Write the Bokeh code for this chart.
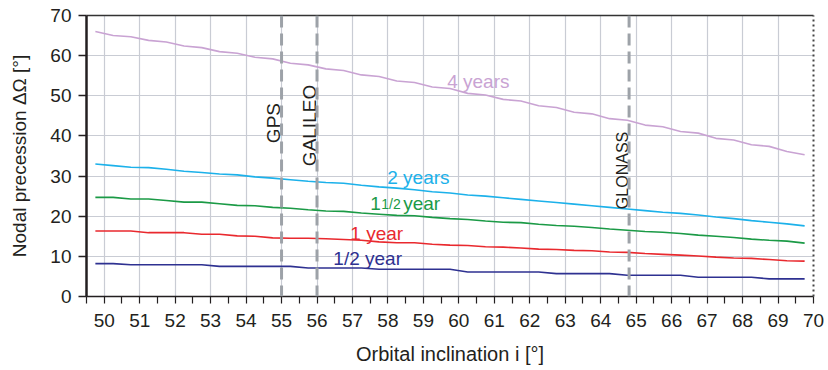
import math
from bokeh.plotting import figure
from bokeh.models import Range1d, FixedTicker, LinearAxis, Span
from bokeh.core.properties import value
from bokeh.embed import file_html
from bokeh.resources import INLINE

# ---------------- data ----------------
inclination = [49.75, 50.25, 50.75, 51.25, 51.75, 52.25, 52.75, 53.25, 53.75, 54.25,
               54.75, 55.25, 55.75, 56.25, 56.75, 57.25, 57.75, 58.25, 58.75, 59.25,
               59.75, 60.25, 60.75, 61.25, 61.75, 62.25, 62.75, 63.25, 63.75, 64.25,
               64.75, 65.25, 65.75, 66.25, 66.75, 67.25, 67.75, 68.25, 68.75, 69.25,
               69.75]

prec_4y = [66.0, 65.0, 64.7, 63.8, 63.4, 62.4, 62.0, 61.0, 60.6, 59.6,
           59.2, 58.1, 57.7, 56.7, 56.3, 55.2, 54.8, 53.7, 53.3, 52.2,
           51.8, 50.6, 50.2, 49.1, 48.7, 47.5, 47.1, 45.9, 45.5, 44.3,
           43.9, 42.7, 42.3, 41.1, 40.7, 39.4, 39.0, 37.8, 37.4, 36.1,
           35.3]
prec_2y = [33.0, 32.6, 32.2, 32.1, 31.7, 31.2, 30.9, 30.5, 30.3, 29.8,
           29.5, 29.1, 28.7, 28.4, 28.2, 27.7, 27.3, 27.0, 26.6, 26.1,
           25.8, 25.3, 25.0, 24.6, 24.2, 23.8, 23.4, 23.0, 22.6, 22.2,
           21.8, 21.4, 21.0, 20.7, 20.3, 19.8, 19.4, 18.9, 18.5, 18.1,
           17.6]
prec_1_5y = [24.7, 24.7, 24.3, 24.3, 23.9, 23.5, 23.5, 23.1, 22.7, 22.6,
             22.2, 22.0, 21.6, 21.3, 21.2, 20.8, 20.5, 20.2, 20.1, 19.7,
             19.4, 19.2, 18.8, 18.5, 18.4, 18.0, 17.7, 17.5, 17.2, 16.8,
             16.5, 16.2, 16.0, 15.7, 15.3, 15.0, 14.7, 14.3, 14.0, 13.8,
             13.3]
prec_1y = [16.3, 16.3, 16.3, 15.9, 15.9, 15.9, 15.5, 15.5, 15.1, 15.0,
           14.6, 14.5, 14.5, 14.4, 14.2, 14.0, 13.6, 13.4, 13.4, 13.0,
           12.8, 12.7, 12.4, 12.3, 12.1, 11.8, 11.7, 11.5, 11.4, 11.1,
           11.0, 10.7, 10.5, 10.3, 10.1, 9.8, 9.6, 9.5, 9.2, 8.9,
           8.8]
prec_half_y = [8.2, 8.2, 7.9, 7.9, 7.9, 7.9, 7.9, 7.5, 7.5, 7.5,
               7.5, 7.5, 7.1, 7.1, 7.1, 7.1, 6.8, 6.8, 6.8, 6.8,
               6.8, 6.1, 6.1, 6.1, 6.1, 6.1, 5.7, 5.7, 5.7, 5.7,
               5.3, 5.3, 5.3, 5.3, 4.8, 4.8, 4.8, 4.8, 4.4, 4.4,
               4.4]

systems = ["GPS", "GALILEO", "GLONASS"]
system_incl = [55.0, 56.0, 64.8]

x_ticks = [50, 51, 52, 53, 54, 55, 56, 57, 58, 59, 60, 61, 62, 63, 64, 65, 66, 67, 68, 69, 70]
y_ticks = [0, 10, 20, 30, 40, 50, 60, 70]

# ---------------- styling ----------------
FONT = "Liberation Sans"
TXT = "#231f20"
GRID = "#c9ccd4"
DASH_GREY = "#9da2a8"

p = figure(width=828, height=370, output_backend="svg", toolbar_location=None,
           x_range=Range1d(49.5, 70), y_range=Range1d(0, 70),
           min_border_left=86, min_border_right=15, min_border_top=15, min_border_bottom=74)
p.outline_line_color = None
p.background_fill_color = "white"
p.border_fill_color = "white"

# grid
p.xgrid.ticker = FixedTicker(ticks=x_ticks)
p.ygrid.ticker = FixedTicker(ticks=y_ticks)
p.grid.grid_line_color = GRID
p.grid.grid_line_width = 1.2

# x axis
xa = p.xaxis[0]
xa.ticker = FixedTicker(ticks=x_ticks, minor_ticks=[t + 0.5 for t in x_ticks[:-1]] + [49.5])
xa.axis_line_color = "#231f20"
xa.axis_line_width = 1.5
xa.major_tick_in = 0
xa.major_tick_out = 7
xa.minor_tick_in = 0
xa.minor_tick_out = 7
xa.major_tick_line_color = "#231f20"
xa.minor_tick_line_color = "#231f20"
xa.major_tick_line_width = 1.2
xa.minor_tick_line_width = 1.2
xa.major_label_text_font = FONT
xa.major_label_text_font_size = "19px"
xa.major_label_text_color = TXT
xa.major_label_standoff = 10
xa.axis_label = "Orbital inclination i [°]"
xa.axis_label_text_font = FONT
xa.axis_label_text_font_size = "20px"
xa.axis_label_text_font_style = "normal"
xa.axis_label_text_color = TXT
xa.axis_label_standoff = 13

# y axis
ya = p.yaxis[0]
ya.ticker = FixedTicker(ticks=y_ticks)
ya.axis_line_color = "#231f20"
ya.axis_line_width = 2.5
ya.major_tick_in = 0
ya.major_tick_out = 8
ya.major_tick_line_color = "#231f20"
ya.major_tick_line_width = 1.5
ya.minor_tick_line_color = None
ya.major_label_text_font = FONT
ya.major_label_text_font_size = "19px"
ya.major_label_text_color = TXT
ya.major_label_standoff = 7
ya.axis_label = "Nodal precession ΔΩ [°]"
ya.axis_label_text_font = FONT
ya.axis_label_text_font_size = "19px"
ya.axis_label_text_font_style = "normal"
ya.axis_label_text_color = TXT
ya.axis_label_standoff = 17

# top solid border, right dotted border
top = LinearAxis(ticker=FixedTicker(ticks=[]), axis_line_color="#333333", axis_line_width=1.5,
                 major_tick_line_color=None, minor_tick_line_color=None)
p.add_layout(top, "above")
right = LinearAxis(ticker=FixedTicker(ticks=[]), axis_line_color="#444444", axis_line_width=2,
                   axis_line_dash="2 3", major_tick_line_color=None, minor_tick_line_color=None)
p.add_layout(right, "right")

# series
series = [
    (prec_4y, "#c9a3d3"),
    (prec_2y, "#1cb1ea"),
    (prec_1_5y, "#1b9a46"),
    (prec_1y, "#e9292e"),
    (prec_half_y, "#2e3191"),
]
for vals, col in series:
    p.line(inclination, vals, line_color=col, line_width=1.6)

# satellite system lines and labels
label_pos = {"GPS": (43.2, "19px", -8), "GALILEO": (42.6, "19px", -8), "GLONASS": (31.4, "16px", -7)}
for name, inc in zip(systems, system_incl):
    p.add_layout(Span(location=inc, dimension="height", line_color=DASH_GREY,
                      line_width=3, line_dash="12 6"))
    ly, fs, xo = label_pos[name]
    p.text(x=[inc], y=[ly], text=[name], angle=math.pi / 2,
           text_align="center", text_baseline="middle", x_offset=xo,
           text_font=value(FONT), text_font_size=fs, text_color=TXT)

# series labels
def lab(x, y, t, col, size="19px", xo=0):
    p.text(x=[x], y=[y], text=[t], text_align="left", text_baseline="alphabetic",
           x_offset=xo, y_offset=-7, text_font=value(FONT), text_font_size=size,
           text_color=col)

lab(59.67, 51.8, "4 years", "#c9a3d3")
lab(57.98, 27.9, "2 years", "#1cb1ea")
lab(57.50, 21.4, "1", "#1b9a46")
lab(57.50, 21.4, "1/2", "#1b9a46", size="14px", xo=11)
lab(57.50, 21.4, "year", "#1b9a46", xo=33)
lab(56.94, 13.95, "1 year", "#e9292e")
lab(56.46, 7.7, "1/2 year", "#2e3191")

open("out.html", "w").write(file_html(p, INLINE))
